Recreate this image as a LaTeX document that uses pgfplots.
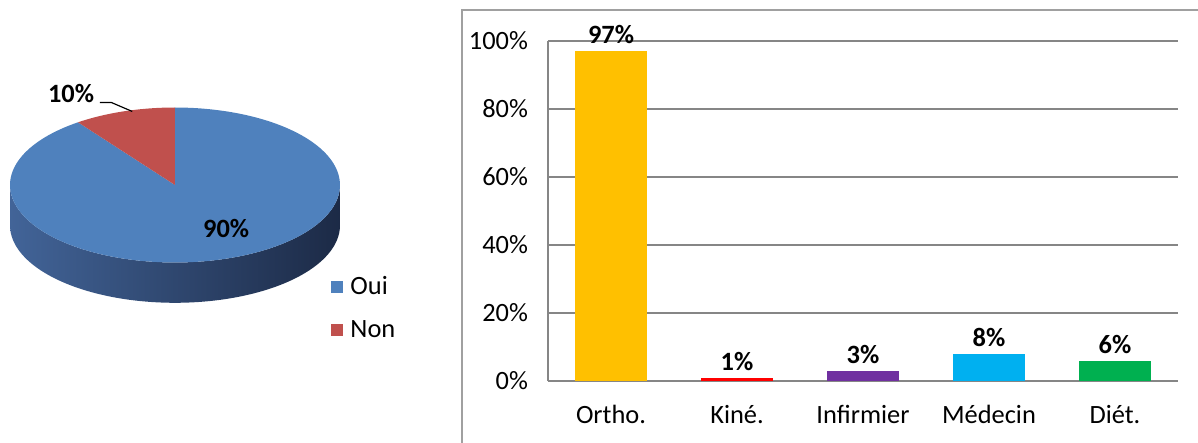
\documentclass[border=0pt]{standalone}
\usepackage{fontspec}
\setmainfont{Carlito}
\usepackage{pgfplots}
\pgfplotsset{compat=1.18}
\definecolor{oui}{RGB}{79,129,189}
\definecolor{non}{RGB}{192,80,77}
\definecolor{wallL}{RGB}{66,100,152}
\definecolor{wallR}{RGB}{28,42,70}
\definecolor{gridc}{RGB}{134,134,134}
\definecolor{framec}{RGB}{160,160,160}
\definecolor{ortho}{RGB}{255,192,0}
\definecolor{kine}{RGB}{255,0,0}
\definecolor{infi}{RGB}{112,48,160}
\definecolor{med}{RGB}{0,176,240}
\definecolor{diet}{RGB}{0,176,80}
% pie data (%)
\def\oui{90}
\def\non{10}
\pgfmathsetmacro{\aA}{90}
\pgfmathsetmacro{\aB}{90+3.6*\non}
\pgfmathsetmacro{\aC}{90+3.6*(\non+\oui)}
\begin{document}
\begin{tikzpicture}[font=\fontsize{13.2bp}{15.8bp}\selectfont]
\path[use as bounding box] (0,0) rectangle (599bp,221.5bp);
\draw[framec, line width=1.2bp] (231bp,0) -- (231bp,216.5bp) -- (599bp,216.5bp);
% ---------- pie ----------
\begin{axis}[at={(5bp,90.25bp)}, anchor=south west, scale only axis,
  width=165bp, height=77.5bp, xmin=-1, xmax=1, ymin=-1, ymax=1,
  axis lines=none, clip=false,
  legend image code/.code={\fill[#1] (0bp,-3bp) rectangle (6bp,3bp);},
  legend style={at={(0.973,-0.085)}, anchor=north west, draw=none, fill=none,
    inner sep=0pt, row sep=10.5bp,
    nodes={text height=9bp, text depth=2bp, inner sep=0pt, anchor=west},
    /tikz/every odd column/.append style={column sep=3.5bp}},
  legend cell align=left]
\addplot[draw=none, left color=wallL, right color=wallR, domain=180:540, samples=181, variable=\t, forget plot]
  ({cos(\t)}, {-abs(sin(\t)) - 0.52*(\t>360)}) -- cycle;
\addplot[fill=oui, draw=none, domain=\aB:\aC, samples=163, variable=\t]
  ({cos(\t)}, {sin(\t)}) -- (axis cs:0,0) -- cycle;
\addlegendentry{Oui}
\addplot[fill=non, draw=none, domain=\aA:\aB, samples=19, variable=\t]
  ({cos(\t)}, {sin(\t)}) -- (axis cs:0,0) -- cycle;
\addlegendentry{Non}
\node[font=\fontsize{13.2bp}{15.8bp}\selectfont\bfseries] at (axis cs:0.31,-0.564) {90\%};
\node[font=\fontsize{13.2bp}{15.8bp}\selectfont\bfseries] at (axis cs:-0.63,1.18) {10\%};
\draw[black, line width=0.6bp] (axis cs:-0.455,1.064) -- (axis cs:-0.385,1.064) -- (axis cs:-0.259,0.949);
\end{axis}
% ---------- bars ----------
\begin{axis}[at={(274bp,31bp)}, anchor=south west, scale only axis,
  width=315bp, height=170bp, xmin=-0.5, xmax=4.5, ymin=0, ymax=100,
  ytick={0,20,...,100}, yticklabel={\pgfmathprintnumber{\tick}\%},
  xtick={0,1,2,3,4}, xticklabels={Ortho., Kiné., Infirmier, Médecin, Diét.},
  /pgf/number format/assume math mode=true,
  axis x line*=bottom, axis y line*=left,
  axis line style={gridc, line width=1bp, -},
  ymajorgrids, grid style={gridc, line width=1bp},
  major tick length=0pt,
  xticklabel style={yshift=-8.5bp},
  yticklabel style={xshift=-6.5bp},
  ybar, bar width=36bp,
  nodes near coords={\pgfmathprintnumber{\pgfplotspointmeta}\%},
  every node near coord/.append style={font=\fontsize{13.2bp}{15.8bp}\selectfont\bfseries, text=black}]
\addplot[fill=ortho, draw=none, bar shift=0pt] coordinates {(0,97)};
\addplot[fill=kine, draw=none, bar shift=0pt] coordinates {(1,1)};
\addplot[fill=infi, draw=none, bar shift=0pt] coordinates {(2,3)};
\addplot[fill=med, draw=none, bar shift=0pt] coordinates {(3,8)};
\addplot[fill=diet, draw=none, bar shift=0pt] coordinates {(4,6)};
\end{axis}
\end{tikzpicture}
\end{document}
